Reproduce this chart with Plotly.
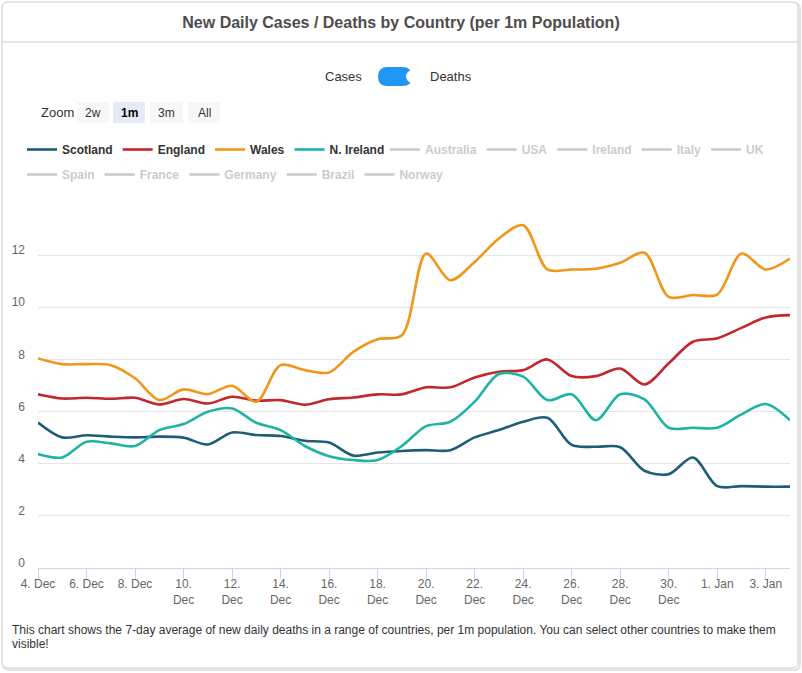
import plotly.graph_objects as go
import pandas as pd

# ---------------- data ----------------
dates = pd.date_range("2020-12-04", periods=32, freq="D").strftime("%Y-%m-%d").tolist()

scotland = [5.58, 5.01, 5.09, 5.04, 5.01, 5.04, 5.00, 4.74, 5.20, 5.10, 5.06, 4.88, 4.81, 4.31, 4.43, 4.49,
            4.52, 4.52, 5.01, 5.29, 5.61, 5.76, 4.72, 4.65, 4.63, 3.73, 3.60, 4.24, 3.14, 3.14, 3.12, 3.12]
england = [6.66, 6.50, 6.53, 6.49, 6.53, 6.27, 6.48, 6.31, 6.57, 6.42, 6.44, 6.26, 6.47, 6.54, 6.66, 6.66,
           6.93, 6.93, 7.31, 7.53, 7.59, 8.00, 7.36, 7.36, 7.65, 7.04, 7.85, 8.68, 8.81, 9.21, 9.61, 9.70]
wales = [8.04, 7.82, 7.82, 7.78, 7.28, 6.44, 6.85, 6.67, 6.99, 6.38, 7.78, 7.59, 7.50, 8.29, 8.77, 8.93,
         12.06, 11.04, 11.74, 12.64, 13.15, 11.45, 11.45, 11.48, 11.71, 12.09, 10.40, 10.47, 10.49, 12.06, 11.45, 11.87]
n_ireland = [4.37, 4.24, 4.84, 4.78, 4.68, 5.29, 5.52, 5.99, 6.12, 5.57, 5.29, 4.68, 4.29, 4.14, 4.14, 4.68,
             5.44, 5.61, 6.38, 7.44, 7.34, 6.44, 6.66, 5.67, 6.66, 6.47, 5.38, 5.38, 5.38, 5.89, 6.29, 5.67]

visible_names = ["Scotland", "England", "Wales", "N. Ireland"]
visible_colors = ["#1f5d76", "#c1272d", "#f0961a", "#1fb3a6"]
hidden_row1 = ["Australia", "USA", "Ireland", "Italy", "UK"]
hidden_row2 = ["Spain", "France", "Germany", "Brazil", "Norway"]

tick_dates = dates[0:31:2]
tick_labels = ["4. Dec", "6. Dec", "8. Dec", "10.<br>Dec", "12.<br>Dec", "14.<br>Dec", "16.<br>Dec",
               "18.<br>Dec", "20.<br>Dec", "22.<br>Dec", "24.<br>Dec", "26.<br>Dec", "28.<br>Dec",
               "30.<br>Dec", "1. Jan", "3. Jan"]
y_ticks = [0, 2, 4, 6, 8, 10, 12]

title_text = "New Daily Cases / Deaths by Country (per 1m Population)"
footer_line1 = ("This chart shows the 7-day average of new daily deaths in a range of countries, "
                "per 1m population. You can select other countries to make them")
footer_line2 = "visible!"
zoom_buttons = ["2w", "1m", "3m", "All"]
selected_zoom = "1m"

# ---------------- geometry helpers ----------------
W, H = 802, 673
PL, PR, PT, PB = 38, 790, 203, 568   # plot area in pixels


def X(px):
    return (px - PL) / (PR - PL)


def Y(py):
    return (PB - py) / (PB - PT)


FONT = "Liberation Sans, Arial, sans-serif"

fig = go.Figure()

series = [scotland, england, wales, n_ireland]
for name, color, vals in zip(visible_names, visible_colors, series):
    fig.add_trace(go.Scatter(
        x=dates, y=vals, name=name, mode="lines", legend="legend",
        line=dict(color=color, width=2.6, shape="spline", smoothing=0.9),
    ))

for lg, names in (("legend2", hidden_row1), ("legend3", hidden_row2)):
    for name in names:
        fig.add_trace(go.Scatter(
            x=[None], y=[None], mode="lines", visible="legendonly", legend=lg,
            name=f"<span style='color:#999999'>{name}</span>",
            line=dict(color="#999999", width=2.6),
        ))

shapes = []


def rounded(x0, y0, x1, y1, r):
    return (f"M {X(x0 + r)},{Y(y0)} L {X(x1 - r)},{Y(y0)} Q {X(x1)},{Y(y0)} {X(x1)},{Y(y0 + r)} "
            f"L {X(x1)},{Y(y1 - r)} Q {X(x1)},{Y(y1)} {X(x1 - r)},{Y(y1)} "
            f"L {X(x0 + r)},{Y(y1)} Q {X(x0)},{Y(y1)} {X(x0)},{Y(y1 - r)} "
            f"L {X(x0)},{Y(y0 + r)} Q {X(x0)},{Y(y0)} {X(x0 + r)},{Y(y0)} Z")


# card shadow + border (rounded)
shapes.append(dict(type="path", xref="paper", yref="paper", path=rounded(3, 3, 800, 670, 6),
                   line=dict(color="#e2e2e2", width=2), fillcolor="rgba(0,0,0,0)", layer="below"))
shapes.append(dict(type="path", xref="paper", yref="paper", path=rounded(2, 2, 798, 668, 6),
                   line=dict(color="#c9c9c9", width=1), fillcolor="white", layer="below"))
# title separator
shapes.append(dict(type="line", xref="paper", yref="paper", x0=X(2), x1=X(798), y0=Y(42), y1=Y(42),
                   line=dict(color="#c9c9c9", width=1)))

# toggle switch
shapes.append(dict(type="path", xref="paper", yref="paper", path=rounded(378, 67, 412, 86, 9.5),
                   line=dict(color="#2196f3", width=0), fillcolor="#2196f3"))
shapes.append(dict(type="circle", xref="paper", yref="paper", x0=X(406), x1=X(419), y0=Y(70), y1=Y(83),
                   line=dict(width=0), fillcolor="white"))

annotations = []
annotations.append(dict(text="Cases", x=X(364), y=Y(76.5), xref="paper", yref="paper",
                        xanchor="right", yanchor="middle", showarrow=False,
                        font=dict(family=FONT, size=13, color="#333333")))
annotations.append(dict(text="Deaths", x=X(428), y=Y(76.5), xref="paper", yref="paper",
                        xanchor="left", yanchor="middle", showarrow=False,
                        font=dict(family=FONT, size=13, color="#333333")))

# zoom buttons
annotations.append(dict(text="Zoom", x=X(39), y=Y(112.5), xref="paper", yref="paper",
                        xanchor="left", yanchor="middle", showarrow=False,
                        font=dict(family=FONT, size=13, color="#333333")))
btn_x = [(77, 109), (113, 145), (150, 183), (188, 220)]
for label, (bx0, bx1) in zip(zoom_buttons, btn_x):
    sel = label == selected_zoom
    shapes.append(dict(type="rect", xref="paper", yref="paper", x0=X(bx0), x1=X(bx1), y0=Y(102), y1=Y(123),
                       line=dict(width=0), fillcolor="#e6ebf5" if sel else "#f7f7f7"))
    annotations.append(dict(text=f"<b>{label}</b>" if sel else label, x=X((bx0 + bx1) / 2), y=Y(112.5),
                            xref="paper", yref="paper", xanchor="center", yanchor="middle",
                            showarrow=False,
                            font=dict(family=FONT, size=12, color="#000000" if sel else "#333333")))

# footer
annotations.append(dict(text=footer_line1, x=X(10), y=Y(630), xref="paper", yref="paper",
                        xanchor="left", yanchor="middle", showarrow=False,
                        font=dict(family=FONT, size=12, color="#333333")))
annotations.append(dict(text=footer_line2, x=X(10), y=Y(644), xref="paper", yref="paper",
                        xanchor="left", yanchor="middle", showarrow=False,
                        font=dict(family=FONT, size=12, color="#333333")))

legend_common = dict(orientation="h", xanchor="left", yanchor="top",
                     font=dict(family=FONT, size=12, color="#333333", weight="bold"),
                     itemwidth=30, bgcolor="rgba(0,0,0,0)", traceorder="normal")

fig.update_layout(
    width=W, height=H,
    margin=dict(l=PL, r=W - PR, t=PT, b=H - PB, pad=0),
    paper_bgcolor="white", plot_bgcolor="rgba(0,0,0,0)",
    font=dict(family=FONT, size=12, color="#666666"),
    title=dict(text=title_text, x=0.5, xanchor="center", xref="container",
               y=1 - 22 / H, yanchor="middle", yref="container",
               font=dict(family=FONT, size=16, color="#4d4d4d", weight="bold")),
    showlegend=True,
    legend=dict(x=X(22), y=Y(135), **legend_common),
    legend2=dict(x=X(385), y=Y(135), **legend_common),
    legend3=dict(x=X(22), y=Y(160), **legend_common),
    xaxis=dict(type="date", range=[dates[0], dates[-1]], tickmode="array",
               tickvals=tick_dates, ticktext=tick_labels,
               showgrid=False, zeroline=False, showline=True, linecolor="#ccd6eb", linewidth=1,
               ticks="outside", ticklen=10, tickcolor="#ccd6eb", ticklabelstandoff=-5,
               tickfont=dict(family=FONT, size=12, color="#666666")),
    yaxis=dict(range=[0, 14], tickmode="array", tickvals=y_ticks, ticktext=[str(v) for v in y_ticks],
               showgrid=True, gridcolor="#e6e6e6", gridwidth=1, zeroline=False, showline=False,
               ticks="", ticklabelstandoff=12, ticklabelshift=-5,
               tickfont=dict(family=FONT, size=12, color="#666666")),
    shapes=shapes, annotations=annotations,
    hovermode="x unified",
)

fig.write_html("out.html", config={"displayModeBar": False},
               post_script="document.body.style.margin='0';document.body.style.overflow='hidden';")
